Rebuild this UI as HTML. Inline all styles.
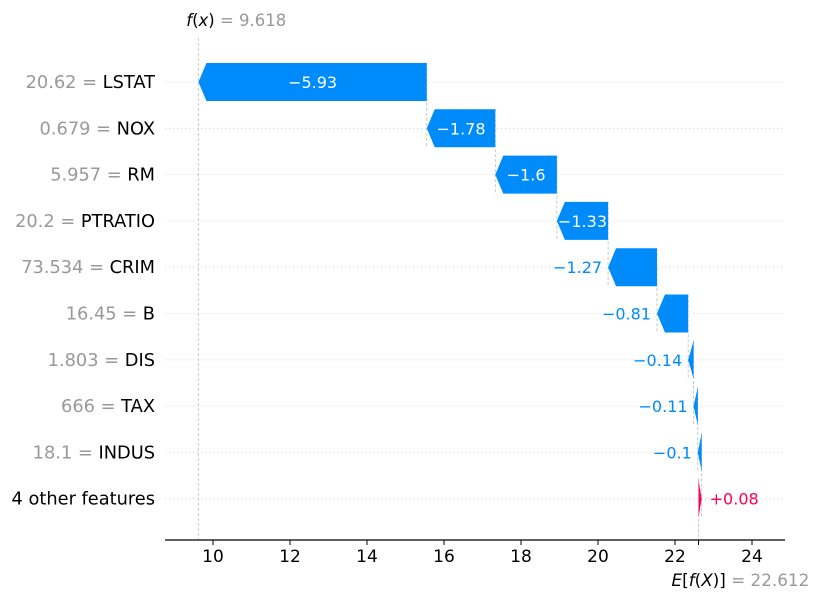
<!DOCTYPE html>
<html><head><meta charset="utf-8"><style>
body{margin:0;background:#fff;}
svg{display:block;font-family:"DejaVu Sans","Liberation Sans",sans-serif;}
</style></head><body>
<svg id="chart" width="818" height="600" viewBox="0 0 818 600" xmlns="http://www.w3.org/2000/svg"></svg>
<script>
const features = ["LSTAT","NOX","RM","PTRATIO","CRIM","B","DIS","TAX","INDUS","4 other features"];
const featureValues = ["20.62","0.679","5.957","20.2","73.534","16.45","1.803","666","18.1",""];
const shapValues = [-5.93,-1.78,-1.6,-1.33,-1.27,-0.81,-0.14,-0.11,-0.1,0.08];
const baseValue = 22.612;
const fxValue = 9.618;
const xTicks = [10,12,14,16,18,20,22,24];

const NS="http://www.w3.org/2000/svg";
const svg=document.getElementById('chart');
function X(v){return 213+(v-10)*38.5;}
function Y(i){return 82+i*46.3;}
function mk(tag,attrs,parent){const e=document.createElementNS(NS,tag);for(const k in attrs)e.setAttribute(k,attrs[k]);(parent||svg).appendChild(e);return e;}
const fmt=v=>(v<0?"\u2212"+Math.abs(v):"+"+v);

features.forEach((f,i)=>{
  const g=mk('line',{x1:165,x2:785,y1:Y(i),y2:Y(i),stroke:'#ccc','stroke-width':0.8,'stroke-dasharray':'1,3'});
  
  
});
const starts=[],ends=[];
let cur=baseValue;
for(let i=features.length-1;i>=0;i--){starts[i]=cur;cur+=shapValues[i];ends[i]=cur;}
let l=mk('line',{x1:X(fxValue),x2:X(fxValue),y1:38,y2:540,stroke:'#bbb','stroke-width':0.8,'stroke-dasharray':'3,2'});

l=mk('line',{x1:X(baseValue),x2:X(baseValue),y1:Y(features.length-1)-20,y2:545,stroke:'#bbb','stroke-width':0.8,'stroke-dasharray':'3,2'});

for(let i=0;i<features.length-1;i++){
  const c=mk('line',{x1:X(ends[i+1]),x2:X(ends[i+1]),y1:Y(i)-19,y2:Y(i+1)+19,stroke:'#bbb','stroke-width':0.8,'stroke-dasharray':'3,2'});
  
  
}
features.forEach((f,i)=>{
  const v=shapValues[i],a=X(starts[i]),b=X(ends[i]),y=Y(i),h=19;
  const w=Math.abs(b-a),head=Math.min(8,w),dir=v<0?-1:1;
  const col=v<0?'#008bfb':'#ff0051';
  const body=b-dir*head;
  const pts=[[a,y-h],[body,y-h],[b,y],[body,y+h],[a,y+h]].map(p=>p.join(',')).join(' ');
  const p=mk('polygon',{points:pts,fill:col});
  
  
  let t;
  if(w>50){
    t=mk('text',{x:(a+b)/2,y:y+6,'text-anchor':'middle','font-size':16,fill:'#fff'});
  }else if(v<0){
    t=mk('text',{x:b-6,y:y+6,'text-anchor':'end','font-size':16,fill:col});
  }else{
    t=mk('text',{x:b+8,y:y+6,'text-anchor':'start','font-size':16,fill:col});
  }
  t.textContent=fmt(v);
  
  
  const lab=mk('text',{x:155,y:y+6,'text-anchor':'end','font-size':17.8,fill:'#000'});
  if(featureValues[i]){const s=mk('tspan',{fill:'#999'},lab);s.textContent=featureValues[i]+" = ";}
  const s2=mk('tspan',{},lab);s2.textContent=f;
  
  
});
const ax=mk('line',{x1:165,x2:785,y1:540,y2:540,stroke:'#000','stroke-width':1.2});

xTicks.forEach(v=>{
  const tk=mk('line',{x1:X(v),x2:X(v),y1:540,y2:545,stroke:'#000','stroke-width':1});
  
  const tl=mk('text',{x:X(v),y:562,'text-anchor':'middle','font-size':17,fill:'#000'});
  tl.textContent=v;
  
});
let tk=mk('line',{x1:X(baseValue),x2:X(baseValue),y1:540,y2:545,stroke:'#000','stroke-width':1});

const fl=mk('text',{x:X(fxValue)-12,y:26,'font-size':16.5,fill:'#000'});
let s=mk('tspan',{'font-style':'italic'},fl);s.textContent='f';
s=mk('tspan',{},fl);s.textContent='(';
s=mk('tspan',{'font-style':'italic'},fl);s.textContent='x';
s=mk('tspan',{},fl);s.textContent=')';
s=mk('tspan',{fill:'#999'},fl);s.textContent=' = '+fxValue;

const el=mk('text',{x:X(baseValue)-27,y:586,'font-size':16.8,fill:'#000'});
s=mk('tspan',{'font-style':'italic'},el);s.textContent='E';
s=mk('tspan',{},el);s.textContent='[';
s=mk('tspan',{'font-style':'italic'},el);s.textContent='f';
s=mk('tspan',{},el);s.textContent='(';
s=mk('tspan',{'font-style':'italic'},el);s.textContent='X';
s=mk('tspan',{},el);s.textContent=')]';
s=mk('tspan',{fill:'#999'},el);s.textContent=' = '+baseValue;

</script>
</body></html>
